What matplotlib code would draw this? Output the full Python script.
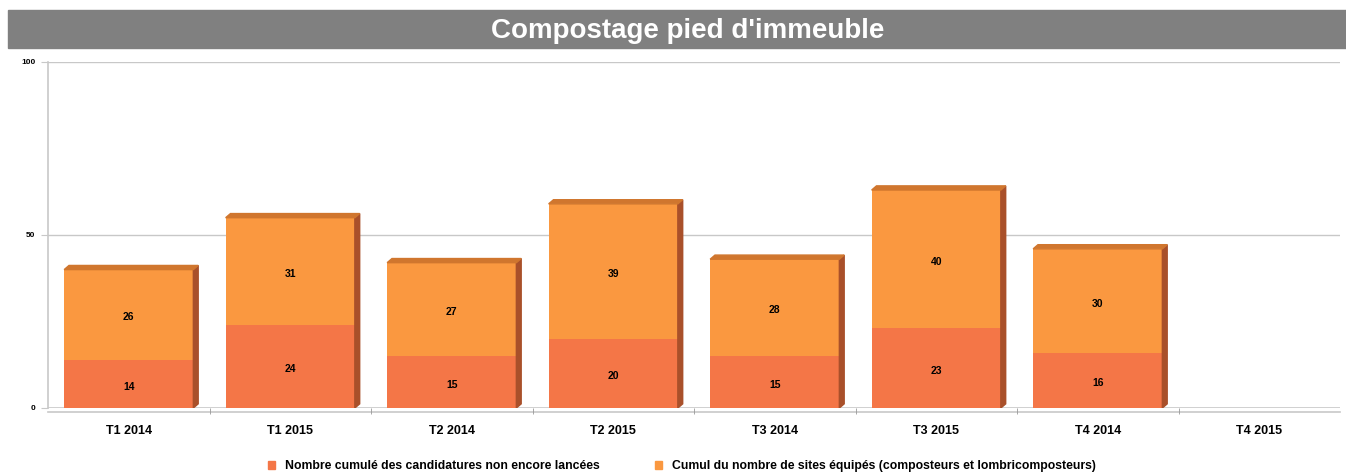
import matplotlib
matplotlib.use("Agg")
import matplotlib.pyplot as plt
from matplotlib.patches import Polygon, Rectangle
import numpy as np

categories = ["T1 2014", "T1 2015", "T2 2014", "T2 2015",
              "T3 2014", "T3 2015", "T4 2014", "T4 2015"]
pending = [14, 24, 15, 20, 15, 23, 16, None]
equipped = [26, 31, 27, 39, 28, 40, 30, None]
series_names = ["Nombre cumulé des candidatures non encore lancées",
                "Cumul du nombre de sites équipés (composteurs et lombricomposteurs)"]

c_low = "#f47647"
c_high = "#fa9840"
c_side = "#a9502a"
c_top = "#d0762e"

plt.rcParams["font.family"] = ["Liberation Sans", "DejaVu Sans"]

fig = plt.figure(figsize=(13.46, 4.76), dpi=100)

# title banner
fig.patches.append(Rectangle((8 / 1346, 1 - 48 / 476), 1 - 8 / 1346, 38 / 476,
                             transform=fig.transFigure, color="#808080", zorder=0))
fig.text(688 / 1346, 1 - 31 / 476, "Compostage pied d'immeuble", color="white",
         fontsize=20, fontweight="bold", ha="center", va="center")

ax = fig.add_axes([48 / 1346, 1 - 408 / 476, 1292 / 1346, 346 / 476])
n = len(categories)
x = np.arange(n)
ax.set_xlim(-0.5, n - 0.5)
ax.set_ylim(0, 100)

for g in (50, 100):
    ax.axhline(g, color="#c8c8c8", lw=1, zorder=0)
ax.axhline(0, color="#c8c8c8", lw=1.2, zorder=0)
ax.axhline(-1.2, color="#c8c8c8", lw=1.2, zorder=0, clip_on=False)

w = 0.8
dx, dy = 0.03, 1.2
for i in range(n):
    if pending[i] is None:
        continue
    lo, hi = pending[i], equipped[i]
    total = lo + hi
    x0, x1 = x[i] - w / 2, x[i] + w / 2
    ax.bar(x[i], lo, w, color=c_low, zorder=2)
    ax.bar(x[i], hi, w, bottom=lo, color=c_high, zorder=2)
    # 3D side and top faces
    ax.add_patch(Polygon([(x1, 0), (x1 + dx, dy), (x1 + dx, total + dy), (x1, total)],
                         closed=True, color=c_side, zorder=2))
    ax.add_patch(Polygon([(x0, total), (x0 + dx, total + dy), (x1 + dx, total + dy), (x1, total)],
                         closed=True, color=c_top, zorder=2))
    ax.text(x[i], lo / 2 - 0.8, str(lo), ha="center", va="center", fontsize=7.5,
            fontweight="bold", zorder=3)
    ax.text(x[i], lo + hi / 2 - 0.8, str(hi), ha="center", va="center", fontsize=7.5,
            fontweight="bold", zorder=3)

ax.set_xticks(x)
ax.set_xticklabels(categories, fontsize=9, fontweight="bold")
ax.tick_params(axis="x", length=0, pad=12)
ax.set_xticks(np.arange(0.5, n - 0.5), minor=True)
ax.tick_params(axis="x", which="minor", length=4, color="#999999", direction="out")
ax.set_yticks([0, 50, 100])
ax.set_yticklabels(["0", "50", "100"], fontsize=6, fontweight="bold")
ax.tick_params(axis="y", length=5, color="#c8c8c8", pad=4)

for s in ("top", "right", "bottom"):
    ax.spines[s].set_visible(False)
ax.spines["left"].set_color("#c8c8c8")
ax.spines["left"].set_linewidth(1.2)

handles = [Rectangle((0, 0), 1, 1, color=c_low), Rectangle((0, 0), 1, 1, color=c_high)]
fig.legend(handles, series_names, loc="center", bbox_to_anchor=(682 / 1346, 1 - 466 / 476),
           ncol=2, frameon=False, handlelength=0.6, handleheight=0.6,
           columnspacing=4.5, handletextpad=0.8,
           prop={"size": 8.8, "weight": "bold"})

fig.savefig("out.png", dpi=100)
